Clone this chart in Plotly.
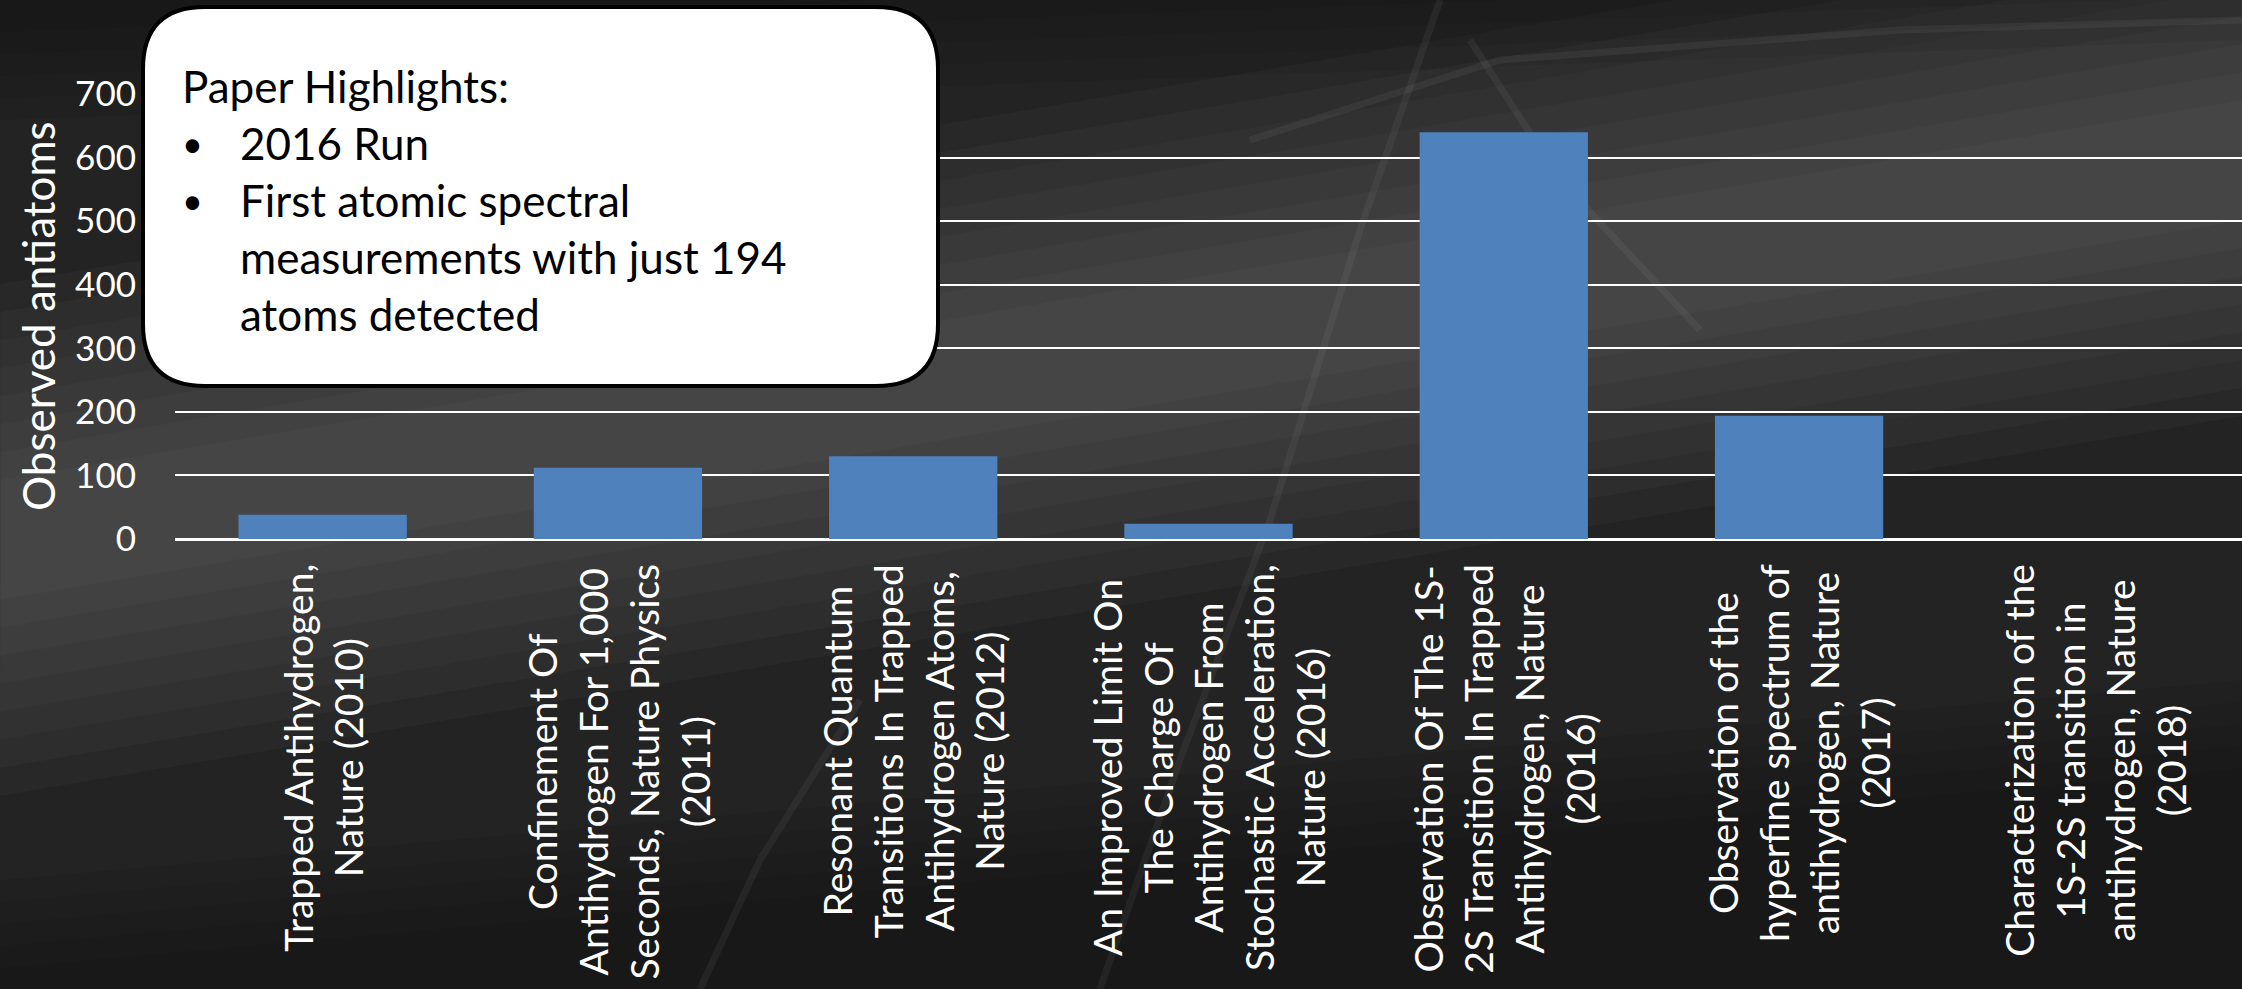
import plotly.graph_objects as go

# ALPHA antihydrogen publications and the number of antiatoms observed in each
categories = [
    "Trapped Antihydrogen,<br>Nature (2010)",
    "Confinement Of<br>Antihydrogen For 1,000<br>Seconds, Nature Physics<br>(2011)",
    "Resonant Quantum<br>Transitions In Trapped<br>Antihydrogen Atoms,<br>Nature (2012)",
    "An Improved Limit On<br>The Charge Of<br>Antihydrogen From<br>Stochastic Acceleration,<br>Nature (2016)",
    "Observation Of The 1S-<br>2S Transition In Trapped<br>Antihydrogen, Nature<br>(2016)",
    "Observation of the<br>hyperfine spectrum of<br>antihydrogen, Nature<br>(2017)",
    "Characterization of the<br>1S-2S transition in<br>antihydrogen, Nature<br>(2018)",
]
observed = [38, 112, 130, 24, 640, 194, 0]
y_ticks = [0, 100, 200, 300, 400, 500, 600, 700]

callout_title = "Paper Highlights:"
callout_bullets = [
    ["2016 Run"],
    ["First atomic spectral", "measurements with just 194", "atoms detected"],
]

W, H = 2242, 989
L, R, T, B = 175, 0, 94, 450
PW, PH = W - L - R, H - T - B
FONT = "Lato"


def px(x):
    return (x - L) / PW


def py(y):
    return (H - B - y) / PH


fig = go.Figure()
fig.add_trace(go.Bar(
    x=categories,
    y=observed,
    marker=dict(color="#4F81BD", line=dict(width=0)),
    hoverinfo="x+y",
))

shapes = []

# smoky backdrop: stacked translucent diagonal bands give a soft lighter haze
# running from lower left to upper right, darker at the top and bottom edges
for k in range(8):
    w = 40 + 28 * k
    pts = [(0, 520 - w), (0, 560 + w), (2242, 180 + w), (2242, 140 - w)]
    path = "M " + " L ".join(f"{px(x):.5f},{py(y):.5f}" for x, y in pts) + " Z"
    shapes.append(dict(type="path", xref="paper", yref="paper", path=path,
                       fillcolor="rgba(255,255,255,0.022)", line=dict(width=0),
                       layer="below"))
for k in range(5):
    d = 22 * k
    top = [(0, 0), (2242, 0), (2242, 40 - d), (0, 120 - d)]
    bot = [(0, 989), (2242, 989), (2242, 680 + d), (0, 880 + d)]
    for pts in (top, bot):
        path = "M " + " L ".join(f"{px(x):.5f},{py(y):.5f}" for x, y in pts) + " Z"
        shapes.append(dict(type="path", xref="paper", yref="paper", path=path,
                           fillcolor="rgba(0,0,0,0.06)", line=dict(width=0),
                           layer="below"))

streaks = [
    [(1440, 0), (1360, 230), (1270, 520), (1180, 760), (1100, 989)],
    [(1470, 40), (1560, 180), (1700, 330)],
    [(1250, 140), (1500, 60), (1900, 30), (2242, 20)],
    [(700, 989), (760, 860), (860, 700)],
]
for pts in streaks:
    path = "M " + " L ".join(f"{px(x):.5f},{py(y):.5f}" for x, y in pts)
    shapes.append(dict(type="path", xref="paper", yref="paper", path=path,
                       line=dict(color="rgba(200,200,200,0.07)", width=7), layer="below"))

# rounded callout box
bx0, bx1, by0, by1, rad = 143, 938, 7, 386, 62
rx, ry = rad / PW, rad / PH
x0, x1, y0, y1 = px(bx0), px(bx1), py(by1), py(by0)
box = (
    f"M {x0 + rx},{y1} L {x1 - rx},{y1} Q {x1},{y1} {x1},{y1 - ry} "
    f"L {x1},{y0 + ry} Q {x1},{y0} {x1 - rx},{y0} "
    f"L {x0 + rx},{y0} Q {x0},{y0} {x0},{y0 + ry} "
    f"L {x0},{y1 - ry} Q {x0},{y1} {x0 + rx},{y1} Z"
)
shapes.append(dict(type="path", xref="paper", yref="paper", path=box,
                   fillcolor="white", line=dict(color="black", width=4), layer="above"))

annotations = []

# callout text
line_y = [86, 143, 200, 257, 314]
cfont = dict(family=FONT, size=44, color="black")
annotations.append(dict(x=px(180), y=py(line_y[0]), xref="paper", yref="paper",
                        text=callout_title, showarrow=False, xanchor="left",
                        yanchor="middle", font=cfont))
row = 1
for item in callout_bullets:
    annotations.append(dict(x=px(180), y=py(line_y[row]), xref="paper", yref="paper",
                            text="•", showarrow=False, xanchor="left",
                            yanchor="middle", font=dict(family=FONT, size=36, color="black")))
    for seg in item:
        annotations.append(dict(x=px(238), y=py(line_y[row]), xref="paper", yref="paper",
                                text=seg, showarrow=False, xanchor="left",
                                yanchor="middle", font=cfont))
        row += 1

# rotated category labels, centred line by line under each bar
for cat in categories:
    annotations.append(dict(x=cat, y=py(562), xref="x", yref="paper", text=cat,
                            textangle=-90, showarrow=False, xanchor="center",
                            yanchor="top", align="center",
                            font=dict(family=FONT, size=39, color="white")))

# y axis title
annotations.append(dict(x=px(38), y=py(316), xref="paper", yref="paper",
                        text="Observed antiatoms", textangle=-90, showarrow=False,
                        xanchor="center", yanchor="middle",
                        font=dict(family=FONT, size=44, color="white")))

fig.update_layout(
    width=W, height=H,
    margin=dict(l=L, r=R, t=T, b=B, pad=0),
    paper_bgcolor="#232323",
    plot_bgcolor="rgba(0,0,0,0)",
    showlegend=False,
    bargap=0.43,
    shapes=shapes,
    annotations=annotations,
    xaxis=dict(showticklabels=False, showgrid=False, zeroline=False,
               showline=False, ticks="", fixedrange=True),
    yaxis=dict(range=[0, 700], tickvals=y_ticks, showgrid=True,
               gridcolor="white", gridwidth=2, zeroline=True,
               zerolinecolor="white", zerolinewidth=3, showline=False,
               ticks="", ticklabelstandoff=38,
               tickfont=dict(family=FONT, size=35, color="white")),
)

fig.write_html("out.html")
